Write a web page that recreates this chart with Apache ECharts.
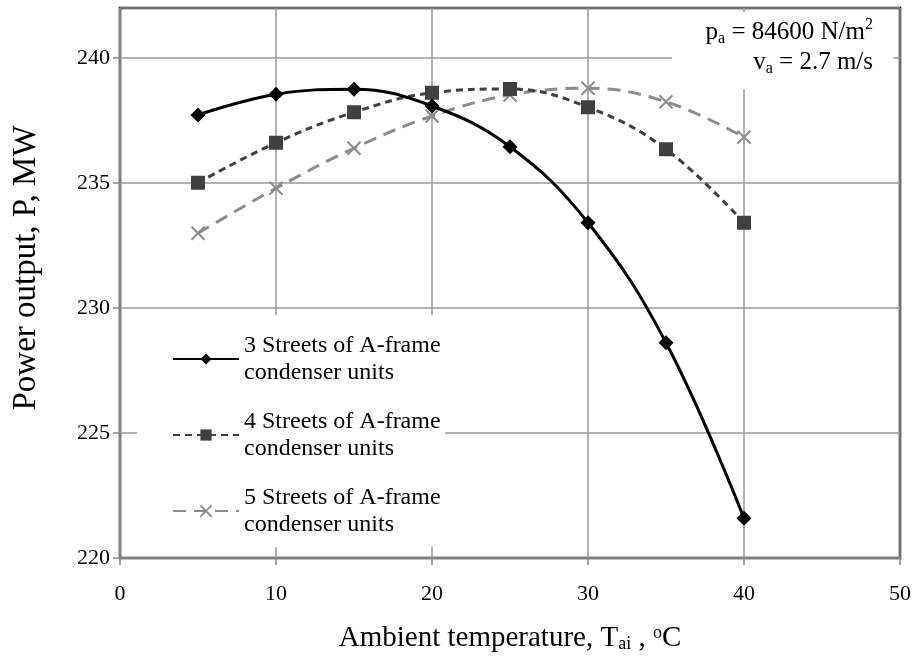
<!DOCTYPE html>
<html>
<head>
<meta charset="utf-8">
<script src="https://cdn.jsdelivr.net/npm/echarts@6/dist/echarts.min.js"></script>
<style>
  html, body { margin: 0; background: #fff; }
  #chart { width: 917px; height: 666px; }
</style>
</head>
<body>
<div id="chart"></div>
<script>
// ambient temperature, deg C
const temps = [5, 10, 15, 20, 25, 30, 35, 40]
// power output, MW
const streets3 = [237.72, 238.55, 238.75, 238.08, 236.45, 233.41, 228.61, 221.59]
const streets4 = [235.01, 236.61, 237.83, 238.61, 238.76, 238.03, 236.35, 233.41]
const streets5 = [232.99, 234.79, 236.39, 237.68, 238.52, 238.79, 238.25, 236.83]
const seriesNames = [
  '3 Streets of A-frame\ncondenser units',
  '4 Streets of A-frame\ncondenser units',
  '5 Streets of A-frame\ncondenser units'
]

const font = 'Liberation Serif'
const gridGray = '#999999'

const pairs = arr => temps.map((t, i) => [t, arr[i]])

const chart = echarts.init(document.getElementById('chart'))

const option = {
  backgroundColor: '#fff',
  animation: false,
  grid: {
    left: 120,
    right: 17,
    top: 8,
    bottom: 108,
    show: true,
    borderColor: '#000',
    borderWidth: 2.5,
    backgroundColor: 'transparent'
  },
  xAxis: {
    type: 'value',
    min: 0,
    max: 50,
    interval: 10,
    name: 'Ambient temperature, T{sub|ai} , {sup|o}C',
    nameLocation: 'middle',
    nameGap: 66,
    nameTextStyle: {
      fontFamily: font,
      fontSize: 29,
      color: '#000',
      rich: {
        sub: { fontFamily: font, fontSize: 18, verticalAlign: 'bottom', lineHeight: 18, color: '#000' },
        sup: { fontFamily: font, fontSize: 18, verticalAlign: 'top', lineHeight: 18, color: '#000' }
      }
    },
    axisLine: { show: true, lineStyle: { color: '#868686', width: 1.5 } },
    axisTick: { show: true, length: 7, lineStyle: { color: '#868686', width: 1.5 } },
    axisLabel: { fontFamily: font, fontSize: 22, color: '#000', margin: 25 },
    splitLine: { show: true, lineStyle: { color: gridGray, width: 1.5 } }
  },
  yAxis: {
    type: 'value',
    min: 220,
    max: 242,
    interval: 5,
    name: 'Power output, P, MW',
    nameLocation: 'middle',
    nameGap: 77,
    nameTextStyle: { fontFamily: font, fontSize: 33, color: '#000', padding: [0, 0, 0, 30] },
    axisLine: { show: true, lineStyle: { color: '#868686', width: 1.5 } },
    axisTick: { show: true, length: 7, lineStyle: { color: '#868686', width: 1.5 } },
    axisLabel: { fontFamily: font, fontSize: 22, color: '#000', margin: 10, showMaxLabel: false },
    splitLine: { show: true, lineStyle: { color: gridGray, width: 1.5 } }
  },
  legend: {
    orient: 'vertical',
    left: 172,
    top: 318.5,
    padding: 0,
    itemWidth: 66,
    itemHeight: 14,
    itemGap: -5,
    textStyle: {
      fontFamily: font,
      fontSize: 24,
      lineHeight: 27,
      color: '#000',
      padding: [27, 0, 0, 0]
    },
    data: seriesNames
  },
  graphic: [
    {
      type: 'rect',
      z: 1,
      shape: { x: 137, y: 315, width: 308, height: 232 },
      style: { fill: '#fff' }
    },
    {
      type: 'rect',
      z: 1,
      shape: { x: 672, y: 12, width: 221, height: 77 },
      style: { fill: '#fff' }
    },
    {
      type: 'text',
      z: 5,
      x: 873,
      y: 17,
      style: {
        text: 'p{sub|a} = 84600 N/m{sup|2}\nv{sub|a} = 2.7 m/s',
        align: 'right',
        verticalAlign: 'top',
        fontFamily: font,
        fontSize: 25,
        lineHeight: 30,
        fill: '#000',
        rich: {
          sub: { fontFamily: font, fontSize: 16, lineHeight: 14, verticalAlign: 'bottom', fill: '#000' },
          sup: { fontFamily: font, fontSize: 16, lineHeight: 16, verticalAlign: 'top', fill: '#000' }
        }
      }
    }
  ],
  series: [
    {
      name: seriesNames[0],
      type: 'line',
      smooth: 0.4,
      data: pairs(streets3),
      symbol: 'diamond',
      symbolSize: 15,
      z: 4,
      lineStyle: { color: '#000', width: 3 },
      itemStyle: { color: '#000' }
    },
    {
      name: seriesNames[1],
      type: 'line',
      smooth: 0.4,
      data: pairs(streets4),
      symbol: 'rect',
      symbolSize: 14,
      z: 3,
      lineStyle: { color: '#404040', width: 3, type: [7, 5] },
      itemStyle: { color: '#404040' }
    },
    {
      name: seriesNames[2],
      type: 'line',
      smooth: 0.4,
      data: pairs(streets5),
      symbol: 'path://M0,0L10,10M10,0L0,10',
      symbolSize: 13,
      z: 2,
      lineStyle: { color: '#8c8c8c', width: 3, type: [13, 8] },
      itemStyle: { color: '#8c8c8c', borderColor: '#8c8c8c', borderWidth: 2 }
    }
  ]
}

chart.setOption(option)
</script>
</body>
</html>
